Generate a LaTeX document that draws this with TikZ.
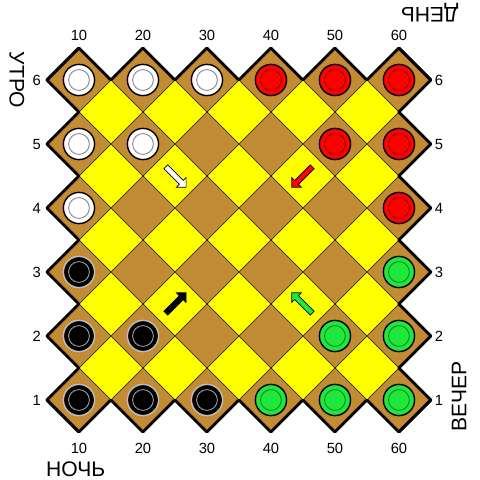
\documentclass[tikz,border=0pt]{standalone}
\usepackage{fontspec}
\setmainfont{Liberation Sans}
\usetikzlibrary{shapes.geometric, shapes.arrows}

\definecolor{cellbrown}{RGB}{193,140,52}
\definecolor{cellyellow}{RGB}{255,255,0}
\definecolor{manred}{RGB}{255,0,0}
\definecolor{ringred}{RGB}{150,0,0}
\definecolor{mangreen}{RGB}{30,232,60}
\definecolor{ringgreen}{RGB}{0,130,30}

\begin{document}
\begin{tikzpicture}[x=1.6cm, y=1.6cm,
  cell/.style={diamond, draw=black!85, line width=0.4pt, fill=cellbrown,
    minimum width=1.6cm, minimum height=1.6cm, inner sep=0pt, outer sep=0pt},
  rim/.style={line width=2pt, line join=round, line cap=round},
  piece/.style 2 args={circle, draw=black, line width=1pt, fill=#1,
    minimum size=0.78cm, inner sep=0pt,
    path picture={\draw[#2, line width=0.6pt] (path picture bounding box.center) circle (0.26cm);}},
  turn/.style={single arrow, draw=black, line width=0.5pt, fill=#1,
    minimum height=0.72cm, minimum width=0.32cm, single arrow head extend=0.1cm,
    inner sep=0.06cm},
  num/.style={font=\fontsize{10.5}{12}\selectfont, inner sep=0pt},
  daytime/.style={font=\fontsize{15}{17}\selectfont, inner sep=0pt}
]
\useasboundingbox (-0.234,-0.25) rectangle (7.266,7.25);

% board cells
\foreach \i in {1,...,5}
  \foreach \j in {1,...,5}
    \node[cell, fill=cellyellow] (y\i\j) at (\i+0.5,\j+0.5) {};
\foreach \i in {1,...,6}
  \foreach \j in {1,...,6}
    \node[cell] (c\i\j) at (\i,\j) {};

% outer edge
\foreach \k in {1,...,6} {
  \draw[rim] (c\k6.west) -- (c\k6.north) -- (c\k6.east);
  \draw[rim] (c\k1.west) -- (c\k1.south) -- (c\k1.east);
  \draw[rim] (c1\k.north) -- (c1\k.west) -- (c1\k.south);
  \draw[rim] (c6\k.north) -- (c6\k.east) -- (c6\k.south);
}

% pieces
\foreach \i/\j in {1/6,2/6,3/6,1/5,2/5,1/4}
  \node[piece={white}{gray}] (w\i\j) at (\i,\j) {};
\foreach \i/\j in {4/6,5/6,6/6,5/5,6/5,6/4}
  \node[piece={manred}{ringred}] (r\i\j) at (\i,\j) {};
\foreach \i/\j in {1/3,1/2,2/2,1/1,2/1,3/1}
  \node[piece={black}{gray!70}, draw=gray!50] (k\i\j) at (\i,\j) {};
\foreach \i/\j in {6/3,5/2,6/2,4/1,5/1,6/1}
  \node[piece={mangreen}{ringgreen}] (g\i\j) at (\i,\j) {};

% moves
\node[turn=white, rotate=-45] (mw) at (2.5,4.5) {};
\node[turn=manred, rotate=-135] (mr) at (4.5,4.5) {};
\node[turn=black, rotate=45] (mk) at (2.5,2.5) {};
\node[turn=mangreen, rotate=135] (mg) at (4.5,2.5) {};

% coordinates
\foreach \i in {1,...,6} {
  \node[num] (top\i) at (\i,6.70) {\i0};
  \node[num] (bot\i) at (\i,0.25) {\i0};
  \node[num] (lft\i) at (0.34,\i) {\i};
  \node[num] (rgt\i) at (6.625,\i) {\i};
}

% times of day
\node[daytime, rotate=-90] (morning) at (0.03,6.0) {УТРО};
\node[daytime, rotate=180] (noon) at (6.48,7.05) {ДЕНЬ};
\node[daytime, rotate=90] (evening) at (6.94,1.05) {ВЕЧЕР};
\node[daytime] (night) at (0.95,-0.08) {НОЧЬ};

\end{tikzpicture}
\end{document}
